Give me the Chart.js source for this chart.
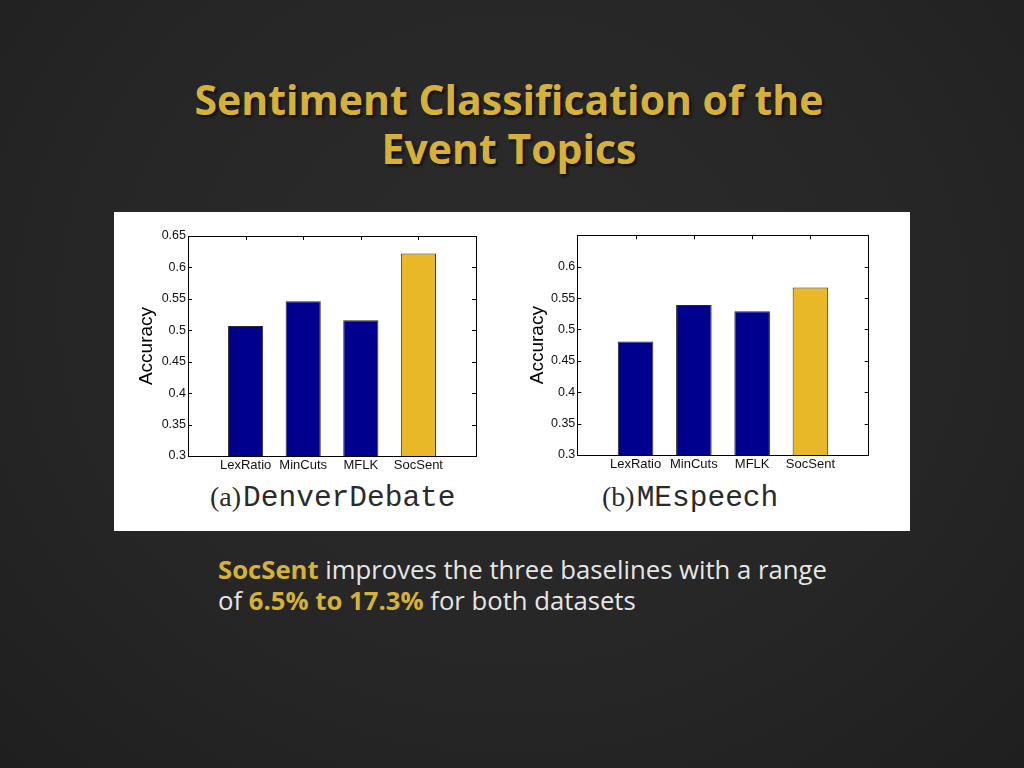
<!DOCTYPE html>
<html>
<head>
<meta charset="utf-8">
<title>Sentiment Classification of the Event Topics</title>
<script src="https://cdn.jsdelivr.net/npm/chart.js@4.4.1/dist/chart.umd.min.js"></script>
<style>
  html, body {
    margin: 0;
    padding: 0;
  }
  body {
    width: 1024px;
    height: 768px;
    position: relative;
    overflow: hidden;
    background: radial-gradient(ellipse at 50% 40%, #2c2c2c 0%, #262626 60%, #1f1f1f 100%);
    font-family: "Open Sans", "Noto Sans", sans-serif;
  }
  #title {
    position: absolute;
    left: -3px;
    top: 75px;
    width: 1024px;
    text-align: center;
    font-size: 41px;
    font-weight: 700;
    line-height: 49px;
    color: #d6b13a;
    text-shadow: 2px 2px 3px rgba(0, 0, 0, 0.7);
  }
  #panel {
    position: absolute;
    left: 114px;
    top: 212px;
    width: 796px;
    height: 319px;
    background: #ffffff;
  }
  .wrap {
    position: absolute;
    height: 252px;
  }
  #wrap1 { left: 133px; top: 226px; width: 350px; }
  #wrap2 { left: 524px; top: 225px; width: 352px; }
  .sub {
    position: absolute;
    top: 481px;
    font-family: "Liberation Mono", "Courier New", monospace;
    font-size: 29.5px;
    line-height: 32px;
    color: #2a2a2a;
    white-space: nowrap;
  }
  .sub .serif {
    font-family: "Liberation Serif", "Times New Roman", serif;
    font-size: 28px;
    word-spacing: -5px;
  }
  #sub1 { left: 210px; }
  #sub2 { left: 602px; }
  #note {
    position: absolute;
    left: 218px;
    top: 554px;
    font-size: 25.7px;
    line-height: 31px;
    color: #e6e6e6;
  }
  #note b {
    color: #d6b13a;
    font-weight: 700;
  }
</style>
</head>
<body>
<div id="title">Sentiment Classification of the<br>Event Topics</div>
<div id="panel"></div>
<div class="wrap" id="wrap1"><canvas id="chart1"></canvas></div>
<div class="wrap" id="wrap2"><canvas id="chart2"></canvas></div>
<div class="sub" id="sub1"><span class="serif">(a) </span>DenverDebate</div>
<div class="sub" id="sub2"><span class="serif">(b) </span>MEspeech</div>
<div id="note"><b>SocSent</b> improves the three baselines with a range<br>of <b>6.5% to 17.3%</b> for both datasets</div>

<script>
// methods on the x axis
const methods = ["LexRatio", "MinCuts", "MFLK", "SocSent"];

// accuracy
const accDenver = [0.507, 0.546, 0.516, 0.622];
const accMEspeech = [0.481, 0.539, 0.529, 0.567];

// tick labels on the accuracy axis
const yTicksDenver = [0.3, 0.35, 0.4, 0.45, 0.5, 0.55, 0.6, 0.65];
const yTicksMEspeech = [0.3, 0.35, 0.4, 0.45, 0.5, 0.55, 0.6];

const barColors = ["#00008f", "#00008f", "#00008f", "#e8b828"];
const tickFont = { family: "'Liberation Sans', Arial, sans-serif", size: 12.5 };
const labelFont = { family: "'Liberation Sans', Arial, sans-serif", size: 13 };

// matlab style box with inward ticks
const boxPlugin = {
  id: "matlabBox",
  afterDatasetsDraw(chart) {
    const { ctx, chartArea: a, scales } = chart;
    ctx.save();
    ctx.strokeStyle = "#000";
    ctx.lineWidth = 1;
    ctx.strokeRect(Math.round(a.left) + 0.5, Math.round(a.top) + 0.5,
      Math.round(a.right - a.left), Math.round(a.bottom - a.top));
    ctx.beginPath();
    scales.y.ticks.forEach((t) => {
      const y = Math.round(scales.y.getPixelForValue(t.value)) + 0.5;
      ctx.moveTo(a.left, y);
      ctx.lineTo(a.left + 4, y);
      ctx.moveTo(a.right, y);
      ctx.lineTo(a.right - 4, y);
    });
    scales.x.ticks.forEach((t) => {
      const x = Math.round(scales.x.getPixelForValue(t.value)) + 0.5;
      ctx.moveTo(x, a.top);
      ctx.lineTo(x, a.top + 4);
    });
    ctx.stroke();
    ctx.restore();
  },
};

function makeConfig(values, yTicks, yWidth, pad) {
  const points = values.map((v, i) => ({ x: i + 1, y: v }));
  return {
    type: "bar",
    data: {
      datasets: [
        {
          label: "Accuracy",
          data: points,
          backgroundColor: barColors,
          borderColor: "#2a2a2a",
          borderWidth: 1,
          barPercentage: 0.61,
          categoryPercentage: 1,
        },
      ],
    },
    options: {
      responsive: true,
      maintainAspectRatio: false,
      animation: false,
      layout: { padding: pad },
      plugins: {
        legend: { display: false },
        tooltip: { enabled: false },
      },
      scales: {
        x: {
          type: "linear",
          min: 0,
          max: 5,
          offset: false,
          afterBuildTicks: (s) => {
            s.ticks = methods.map((m, i) => ({ value: i + 1 }));
          },
          afterFit: (s) => {
            s.height = 22;
          },
          ticks: {
            autoSkip: false,
            maxRotation: 0,
            padding: 2,
            color: "#111",
            font: labelFont,
            callback: (v) => methods[v - 1],
          },
          grid: { display: false, drawTicks: false },
          border: { display: false },
        },
        y: {
          min: 0.3,
          max: 0.65,
          afterBuildTicks: (s) => {
            s.ticks = yTicks.map((v) => ({ value: v }));
          },
          afterFit: (s) => {
            s.width = yWidth;
          },
          ticks: {
            padding: 2,
            color: "#111",
            font: tickFont,
            callback: (v) => String(v),
          },
          grid: { display: false, drawTicks: false },
          border: { display: false },
          title: {
            display: true,
            text: "Accuracy",
            color: "#000",
            font: { family: "'Liberation Sans', Arial, sans-serif", size: 19 },
            padding: { top: 2, bottom: 0 },
          },
        },
      },
    },
    plugins: [boxPlugin],
  };
}

new Chart(document.getElementById("chart1"),
  makeConfig(accDenver, yTicksDenver, 55, { top: 10, right: 7, left: 0, bottom: 0 }));
new Chart(document.getElementById("chart2"),
  makeConfig(accMEspeech, yTicksMEspeech, 53.3, { top: 10.3, right: 7.3, left: 0, bottom: 0 }));
</script>
</body>
</html>
